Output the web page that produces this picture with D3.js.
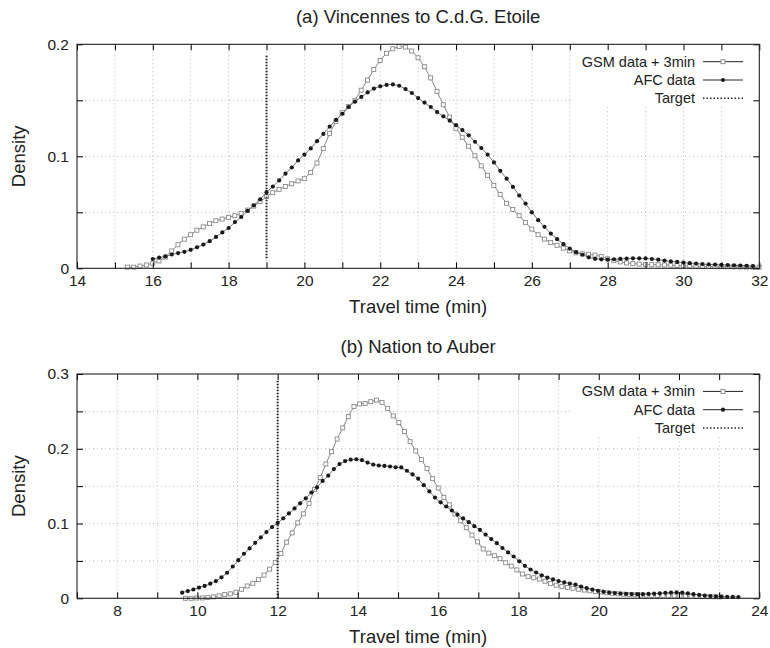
<!DOCTYPE html>
<html>
<head>
<meta charset="utf-8">
<script src="https://cdn.jsdelivr.net/npm/d3@7"></script>
<style>
  body { margin: 0; background: #fff; }
  text { font-family: "Liberation Sans", Arial, sans-serif; fill: #222; }
</style>
</head>
<body>
<div id="vis-container"></div>
<script>
// ---- data ----
// (a) Vincennes to C.d.G. Etoile, samples every 1/6 min
const gsmA_start = 15.33, gsmA_step = 1 / 6;
const gsmA = [0.001, 0.001, 0.002, 0.003, 0.0045, 0.0065, 0.010, 0.0155, 0.021, 0.026,
  0.030, 0.034, 0.037, 0.040, 0.0425, 0.044, 0.0455, 0.047, 0.049, 0.052,
  0.0555, 0.0595, 0.064, 0.0675, 0.0705, 0.073, 0.0755, 0.078, 0.080, 0.0855,
  0.094, 0.107, 0.1205, 0.131, 0.139, 0.1445, 0.150, 0.159, 0.168, 0.1775,
  0.1855, 0.192, 0.196, 0.198, 0.1975, 0.194, 0.188, 0.180, 0.170, 0.158,
  0.146, 0.135, 0.125, 0.117, 0.109, 0.1005, 0.0915, 0.083, 0.074, 0.066,
  0.058, 0.0525, 0.047, 0.041, 0.035, 0.030, 0.026, 0.023, 0.0205, 0.018,
  0.0155, 0.0138, 0.013, 0.0125, 0.0118, 0.0105, 0.0085, 0.0068, 0.0057, 0.0048,
  0.0042, 0.0038, 0.0035, 0.0033, 0.0032, 0.003, 0.0028, 0.0025, 0.0022, 0.002,
  0.0018, 0.0017, 0.0016, 0.0015, 0.0015, 0.0014, 0.0013, 0.0012, 0.0011, 0.001, 0.001];

const afcA_start = 16, afcA_step = 1 / 6;
const afcA = [0.0083, 0.0096, 0.0106, 0.0123, 0.0136, 0.0147, 0.0165, 0.0188, 0.0212, 0.0242,
  0.028, 0.032, 0.036, 0.0413, 0.0458, 0.0512, 0.0562, 0.0616, 0.068, 0.073,
  0.0785, 0.0845, 0.090, 0.0963, 0.1015, 0.107, 0.1135, 0.120, 0.1265, 0.1325,
  0.138, 0.144, 0.1488, 0.153, 0.157, 0.1605, 0.1625, 0.1637, 0.1642, 0.163,
  0.160, 0.1565, 0.152, 0.148, 0.144, 0.1395, 0.1357, 0.1318, 0.1278, 0.1234,
  0.1187, 0.113, 0.1074, 0.1015, 0.0945, 0.087, 0.080, 0.0727, 0.065, 0.0578,
  0.050, 0.043, 0.037, 0.031, 0.026, 0.0215, 0.0176, 0.0144, 0.0121, 0.0098,
  0.0085, 0.008, 0.0077, 0.0081, 0.0084, 0.0087, 0.0089, 0.0089, 0.0088, 0.0083,
  0.0077, 0.0069, 0.0061, 0.0057, 0.0052, 0.0046, 0.0042, 0.0038, 0.0035, 0.0033,
  0.0031, 0.0029, 0.0027, 0.0025, 0.0022, 0.002];

// (b) Nation to Auber, samples every 0.14 min
const gsmB_start = 9.7, gsmB_step = 0.14;
const gsmB = [0.000, 0.000, 0.0004, 0.0005, 0.001, 0.0019, 0.0033, 0.005, 0.006, 0.008,
  0.012, 0.0165, 0.020, 0.025, 0.031, 0.039, 0.048, 0.060, 0.075, 0.0875,
  0.101, 0.113, 0.127, 0.1455, 0.1615, 0.1796, 0.196, 0.213, 0.228, 0.243,
  0.2565, 0.260, 0.2605, 0.263, 0.265, 0.262, 0.254, 0.244, 0.235, 0.223,
  0.2095, 0.197, 0.1855, 0.1735, 0.160, 0.1475, 0.135, 0.125, 0.1127, 0.1038,
  0.0944, 0.0845, 0.0755, 0.066, 0.0605, 0.057, 0.053, 0.0475, 0.0432, 0.038,
  0.0325, 0.029, 0.0275, 0.0257, 0.0228, 0.0198, 0.0175, 0.0158, 0.0146, 0.0134,
  0.012, 0.011, 0.010, 0.0092, 0.0085, 0.0075, 0.0066, 0.006, 0.0055, 0.0051,
  0.0047, 0.0044, 0.0041, 0.0038, 0.0036, 0.0035, 0.0034, 0.0032, 0.003, 0.0028,
  0.0026, 0.0024, 0.0022, 0.0021, 0.002, 0.0018];

const afcB_start = 9.62, afcB_step = 0.14;
const afcB = [0.0075, 0.0097, 0.0118, 0.0144, 0.0165, 0.0195, 0.023, 0.028, 0.0342, 0.0425,
  0.051, 0.0596, 0.0667, 0.0742, 0.0814, 0.0886, 0.0953, 0.1008, 0.107, 0.1135,
  0.1202, 0.127, 0.1337, 0.1415, 0.1483, 0.157, 0.164, 0.1728, 0.1795, 0.1835,
  0.1855, 0.186, 0.1847, 0.1815, 0.1788, 0.1776, 0.1771, 0.1763, 0.1752, 0.175,
  0.1706, 0.1657, 0.160, 0.1513, 0.143, 0.1347, 0.1284, 0.1228, 0.1174, 0.112,
  0.1068, 0.1018, 0.0965, 0.0914, 0.0852, 0.0792, 0.0737, 0.0673, 0.0614, 0.0559,
  0.0495, 0.0435, 0.0385, 0.0345, 0.0308, 0.0277, 0.0253, 0.023, 0.0213, 0.0197,
  0.0182, 0.0158, 0.0137, 0.0118, 0.0101, 0.0087, 0.0077, 0.007, 0.0064, 0.0059,
  0.0056, 0.0055, 0.0055, 0.0058, 0.0062, 0.0067, 0.0073, 0.0077, 0.0079, 0.0075,
  0.0066, 0.0055, 0.0045, 0.0036, 0.003, 0.0025, 0.0022, 0.002, 0.0018, 0.0017];

const xTicksA = d3.range(14, 33, 1);
const yTicksA = [0, 0.05, 0.1, 0.15, 0.2];
const xTicksB = d3.range(7, 25, 1);
const yTicksB = [0, 0.05, 0.1, 0.15, 0.2, 0.25, 0.3];

const targetA = 19, targetB = 12;
const legendNames = ["GSM data + 3min", "AFC data", "Target"];

// ---- drawing ----
const margin = { left: 77, right: 759.3 };
const svg = d3.select("#vis-container")
  .append("svg")
  .attr("width", 770)
  .attr("height", 648);

const toPoints = (start, step, vals) => vals.map((v, i) => [start + i * step, v]);

function drawPanel(cfg) {
  const g = svg.append("g");

  const x = d3.scaleLinear()
    .domain(cfg.xDomain)
    .range([margin.left, margin.right]);
  const y = d3.scaleLinear()
    .domain(cfg.yDomain)
    .range([cfg.bottom, cfg.top]);

  // grid
  g.append("g").selectAll("line")
    .data(cfg.xTicks.slice(1, -1))
    .join("line")
      .attr("x1", d => x(d)).attr("x2", d => x(d))
      .attr("y1", cfg.bottom).attr("y2", cfg.top)
      .attr("stroke", "#b8b8b8")
      .attr("stroke-dasharray", "1,3");
  g.append("g").selectAll("line")
    .data(cfg.yTicks.slice(1, -1))
    .join("line")
      .attr("x1", margin.left).attr("x2", margin.right)
      .attr("y1", d => y(d)).attr("y2", d => y(d))
      .attr("stroke", "#b8b8b8")
      .attr("stroke-dasharray", "1,3");

  // legend background hides the grid
  g.append("rect")
    .attr("x", 573).attr("y", cfg.top + 1)
    .attr("width", margin.right - 574).attr("height", 60)
    .attr("fill", "#fff");

  const line = d3.line().x(d => x(d[0])).y(d => y(d[1]));

  // GSM curve
  g.append("path")
    .datum(cfg.gsm)
    .attr("d", line)
    .attr("fill", "none")
    .attr("stroke", "#777")
    .attr("stroke-width", 0.9);
  g.append("g").selectAll("rect")
    .data(cfg.gsm)
    .join("rect")
      .attr("x", d => x(d[0]) - 2)
      .attr("y", d => y(d[1]) - 2)
      .attr("width", 4).attr("height", 4)
      .attr("fill", "#fff")
      .attr("stroke", "#8a8a8a")
      .attr("stroke-width", 0.9);

  // AFC curve
  g.append("path")
    .datum(cfg.afc)
    .attr("d", line)
    .attr("fill", "none")
    .attr("stroke", "#666")
    .attr("stroke-width", 0.9);
  g.append("g").selectAll("circle")
    .data(cfg.afc)
    .join("circle")
      .attr("cx", d => x(d[0]))
      .attr("cy", d => y(d[1]))
      .attr("r", 2.1)
      .attr("fill", "#1a1a1a");

  // target
  g.append("line")
    .attr("x1", x(cfg.target)).attr("x2", x(cfg.target))
    .attr("y1", y(cfg.targetRange[0])).attr("y2", y(cfg.targetRange[1]))
    .attr("stroke", "#222")
    .attr("stroke-width", 2)
    .attr("stroke-dasharray", "1.5,1.5");

  // axes (ticks inward, mirrored)
  const fs = 15.5;
  g.append("g")
    .attr("transform", `translate(0,${cfg.bottom})`)
    .call(d3.axisBottom(x).tickValues(cfg.xTicks).tickSizeInner(-6).tickSizeOuter(0)
      .tickPadding(7).tickFormat(d => d % 2 === 0 ? d : ""))
    .attr("font-size", fs)
    .call(a => a.select(".domain").remove());
  g.append("g")
    .attr("transform", `translate(0,${cfg.top})`)
    .call(d3.axisTop(x).tickValues(cfg.xTicks).tickSizeInner(-6).tickSizeOuter(0).tickFormat(""))
    .call(a => a.select(".domain").remove());
  g.append("g")
    .attr("transform", `translate(${margin.left},0)`)
    .call(d3.axisLeft(y).tickValues(cfg.yTicks).tickSizeInner(-6).tickSizeOuter(0)
      .tickPadding(8).tickFormat(d => Math.round(d * 100) % 10 === 0 ? String(+d.toFixed(1)) : ""))
    .attr("font-size", fs)
    .call(a => a.select(".domain").remove());
  g.append("g")
    .attr("transform", `translate(${margin.right},0)`)
    .call(d3.axisRight(y).tickValues(cfg.yTicks).tickSizeInner(-6).tickSizeOuter(0).tickFormat(""))
    .call(a => a.select(".domain").remove());

  g.append("rect")
    .attr("x", margin.left).attr("y", cfg.top)
    .attr("width", margin.right - margin.left)
    .attr("height", cfg.bottom - cfg.top)
    .attr("fill", "none")
    .attr("stroke", "#222")
    .attr("stroke-width", 1.1);

  // labels
  const cx = (margin.left + margin.right) / 2;
  g.append("text")
    .attr("x", cx).attr("y", cfg.top - 21)
    .attr("text-anchor", "middle")
    .attr("font-size", 18.5)
    .text(cfg.title);
  g.append("text")
    .attr("x", cx).attr("y", cfg.bottom + 45)
    .attr("text-anchor", "middle")
    .attr("font-size", 18.5)
    .text("Travel time (min)");
  g.append("text")
    .attr("transform", `translate(25,${(cfg.top + cfg.bottom) / 2}) rotate(-90)`)
    .attr("text-anchor", "middle")
    .attr("font-size", 18.5)
    .text("Density");

  // legend
  const rows = [17.4, 35.7, 54].map(d => cfg.top + d);
  legendNames.forEach((name, i) => {
    g.append("text")
      .attr("x", 695).attr("y", rows[i])
      .attr("dy", "0.35em")
      .attr("text-anchor", "end")
      .attr("font-size", 14.5)
      .text(name);
    const ls = g.append("line")
      .attr("x1", 703).attr("x2", 743)
      .attr("y1", rows[i]).attr("y2", rows[i])
      .attr("stroke", "#222");
    if (i === 2) ls.attr("stroke-dasharray", "1.5,2").attr("stroke-width", 1.4);
  });
  g.append("rect")
    .attr("x", 721).attr("y", rows[0] - 2)
    .attr("width", 4).attr("height", 4)
    .attr("fill", "#fff").attr("stroke", "#8a8a8a").attr("stroke-width", 0.9);
  g.append("circle")
    .attr("cx", 723).attr("cy", rows[1]).attr("r", 2.1)
    .attr("fill", "#1a1a1a");
}

drawPanel({
  title: "(a) Vincennes to C.d.G. Etoile",
  xDomain: [14, 32], yDomain: [0, 0.2],
  top: 44.3, bottom: 268.3,
  xTicks: xTicksA, yTicks: yTicksA,
  gsm: toPoints(gsmA_start, gsmA_step, gsmA),
  afc: toPoints(afcA_start, afcA_step, afcA),
  target: targetA, targetRange: [0.009, 0.191]
});

drawPanel({
  title: "(b) Nation to Auber",
  xDomain: [7, 24], yDomain: [0, 0.3],
  top: 374, bottom: 598.3,
  xTicks: xTicksB, yTicks: yTicksB,
  gsm: toPoints(gsmB_start, gsmB_step, gsmB),
  afc: toPoints(afcB_start, afcB_step, afcB),
  target: targetB, targetRange: [0, 0.293]
});
</script>
</body>
</html>
